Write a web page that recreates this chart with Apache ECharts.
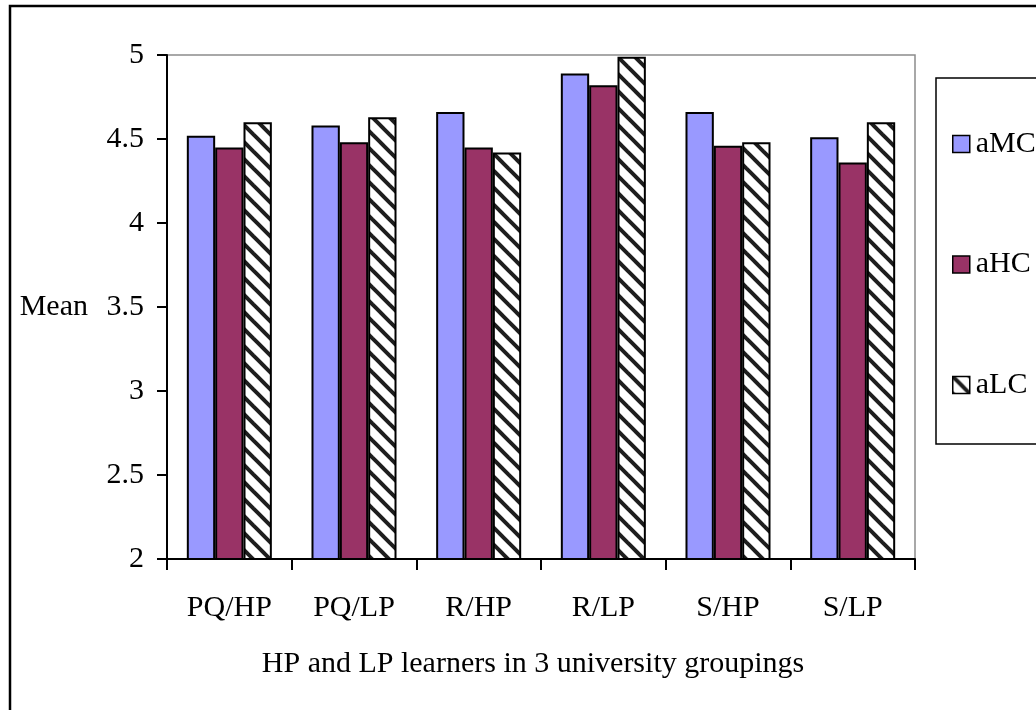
<!DOCTYPE html>
<html>
<head>
<meta charset="utf-8">
<script src="https://cdn.jsdelivr.net/npm/echarts@6/dist/echarts.min.js"></script>
<style>
  html, body { margin: 0; padding: 0; background: #fff; }
  #chart { width: 1036px; height: 710px; }
</style>
</head>
<body>
<div id="chart"></div>
<script>
// Mean scores per learner grouping
const categories = ['PQ/HP', 'PQ/LP', 'R/HP', 'R/LP', 'S/HP', 'S/LP'];
const aMC = [4.52, 4.58, 4.66, 4.89, 4.66, 4.51];
const aHC = [4.45, 4.48, 4.45, 4.82, 4.46, 4.36];
const aLC = [4.60, 4.63, 4.42, 4.99, 4.48, 4.60];
const seriesNames = ['aMC', 'aHC', 'aLC'];
const yMin = 2, yMax = 5, yStep = 0.5;

const FONT = '"Liberation Serif", "Times New Roman", serif';
const FS = 30;

// diagonal hatch tile for the aLC bars
function hatchTile() {
  const p = 17;
  const c = document.createElement('canvas');
  c.width = p; c.height = p;
  const g = c.getContext('2d');
  g.fillStyle = '#fff';
  g.fillRect(0, 0, p, p);
  g.strokeStyle = '#1e1e1e';
  g.lineWidth = 4;
  g.lineCap = 'square';
  for (let k = -1; k <= 1; k++) {
    g.beginPath();
    g.moveTo(k * p, 0);
    g.lineTo(k * p + p, p);
    g.stroke();
  }
  return c;
}

const chart = echarts.init(document.getElementById('chart'), null, { renderer: 'canvas' });

const barBorder = { borderColor: '#000', borderWidth: 2 };

chart.setOption({
  backgroundColor: '#fff',
  animation: false,
  textStyle: { fontFamily: FONT, color: '#000' },
  graphic: [
    {
      type: 'rect', silent: true, z: 0,
      shape: { x: 10, y: 6, width: 1200, height: 900 },
      style: { fill: 'none', stroke: '#000', lineWidth: 2.5 }
    },
    {
      type: 'rect', silent: true, z: 0,
      shape: { x: 936, y: 78, width: 300, height: 366 },
      style: { fill: '#fff', stroke: '#000', lineWidth: 1.5 }
    }
  ],
  grid: {
    left: 167, top: 55, right: 121, bottom: 151,
    show: true, borderColor: '#8c8c8c', borderWidth: 1.5, backgroundColor: 'transparent'
  },
  legend: {
    orient: 'vertical',
    left: 947, top: 124,
    itemWidth: 17, itemHeight: 17,
    itemGap: 90.5,
    icon: 'rect',
    data: seriesNames,
    textStyle: { fontFamily: FONT, fontSize: FS, color: '#000', lineHeight: 28, padding: [0, 0, 0, 1] },
    itemStyle: { borderColor: '#000', borderWidth: 1.5 }
  },
  xAxis: {
    type: 'category',
    data: categories,
    name: 'HP and LP learners in 3 university groupings',
    nameLocation: 'middle',
    nameGap: 90,
    nameTextStyle: { fontFamily: FONT, fontSize: FS, color: '#000', padding: [0, 16, 0, 0] },
    axisLine: { lineStyle: { color: '#000', width: 2 } },
    axisTick: { show: true, length: 11, lineStyle: { color: '#000', width: 2 } },
    axisLabel: { fontFamily: FONT, fontSize: FS, color: '#000', margin: 34 },
    splitLine: { show: false }
  },
  yAxis: {
    type: 'value',
    min: yMin, max: yMax, interval: yStep,
    name: 'Mean',
    nameLocation: 'middle',
    nameRotate: 0,
    nameGap: 79,
    nameTextStyle: { fontFamily: FONT, fontSize: FS, color: '#000' },
    axisLine: { show: true, lineStyle: { color: '#000', width: 2 } },
    axisTick: { show: true, length: 10, lineStyle: { color: '#000', width: 2 } },
    axisLabel: { fontFamily: FONT, fontSize: FS, color: '#000', margin: 23 },
    splitLine: { show: false }
  },
  series: [
    {
      name: 'aMC', type: 'bar', data: aMC,
      barGap: '0%', barCategoryGap: '31.8%',
      itemStyle: Object.assign({ color: '#9999FF' }, barBorder)
    },
    {
      name: 'aHC', type: 'bar', data: aHC,
      barGap: '0%', barCategoryGap: '31.8%',
      itemStyle: Object.assign({ color: '#993366' }, barBorder)
    },
    {
      name: 'aLC', type: 'bar', data: aLC,
      barGap: '0%', barCategoryGap: '31.8%',
      itemStyle: Object.assign({ color: { image: hatchTile(), repeat: 'repeat' } }, barBorder)
    }
  ]
});
</script>
</body>
</html>
